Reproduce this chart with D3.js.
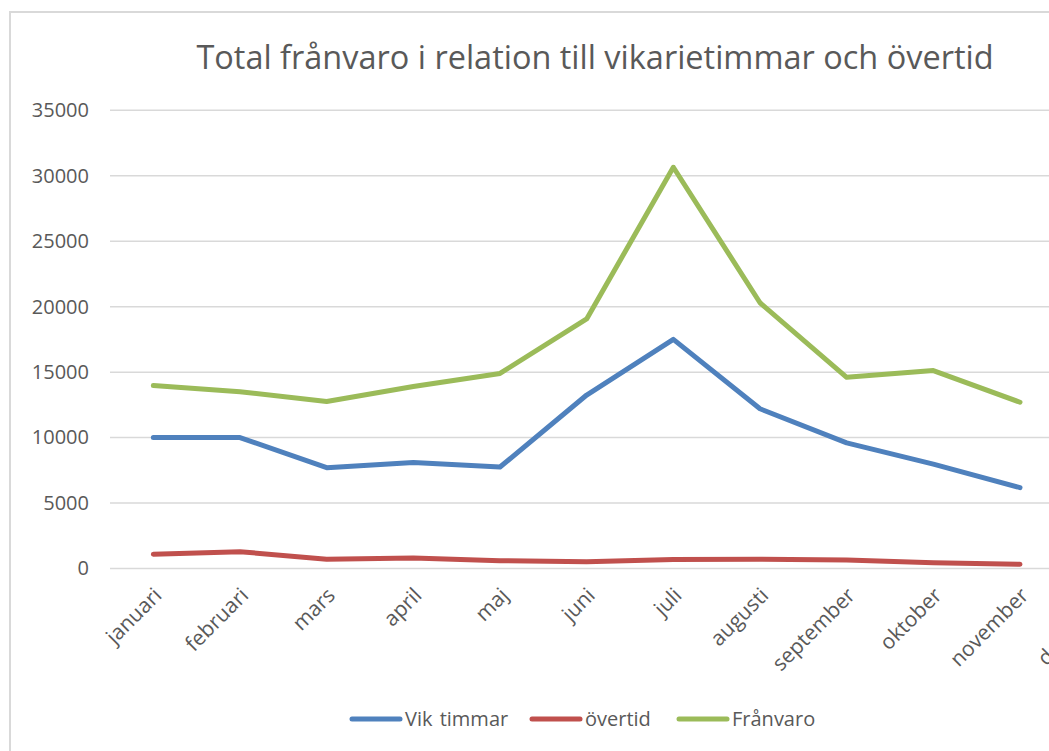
<!DOCTYPE html>
<html>
<head>
<meta charset="utf-8">
<script src="https://cdn.jsdelivr.net/npm/d3@7"></script>
<style>
  html, body { margin: 0; padding: 0; background: #fff; overflow: hidden; }
  svg { display: block; }
  text { font-family: "Open Sans", "Noto Sans", sans-serif; fill: #595959; }
</style>
</head>
<body>
<svg id="chart" width="1049" height="751"></svg>
<script>
const months = ["januari","februari","mars","april","maj","juni","juli","augusti","september","oktober","november","december"];
const vikTimmar = [10000, 10000, 7700, 8100, 7750, 13250, 17500, 12200, 9600, 7970, 6180, null];
const overtid   = [1085, 1285, 700, 800, 600, 520, 690, 700, 650, 440, 320, null];
const franvaro  = [13970, 13500, 12750, 13900, 14900, 19060, 30650, 20300, 14600, 15120, 12700, null];
const yTicks = [0, 5000, 10000, 15000, 20000, 25000, 30000, 35000];
const seriesNames = ["Vik timmar", "övertid", "Frånvaro"];
const seriesColors = ["#4F81BD", "#C0504D", "#9BBB59"];
const titleText = "Total frånvaro i relation till vikarietimmar och övertid";

const svg = d3.select("#chart");

// chart area border (cropped at right/bottom)
svg.append("path")
  .attr("d", "M10,751 L10,12 L1049,12")
  .attr("fill", "none").attr("stroke", "#D9D9D9").attr("stroke-width", 2);

const x = d3.scalePoint().domain(months).range([110, 1150]).padding(0.5);
const y = d3.scaleLinear().domain([0, 35000]).range([568.5, 110.3]);

// gridlines
svg.append("g").selectAll("line").data(yTicks).join("line")
  .attr("x1", 110).attr("x2", 1150)
  .attr("y1", d => y(d)).attr("y2", d => y(d))
  .attr("stroke", "#D9D9D9").attr("stroke-width", 1.5);

// y axis labels
const yAxis = d3.axisLeft(y).tickValues(yTicks).tickFormat(d3.format("d")).tickSize(0).tickPadding(0);
const gy = svg.append("g").attr("transform", "translate(89,0)").call(yAxis);
gy.select(".domain").remove();
gy.selectAll("text").style("font-size", "20px").attr("fill", "#595959")
  .style("font-family", "'Open Sans', sans-serif");

// x axis labels (rotated)
const xAxis = d3.axisBottom(x).tickSize(0).tickPadding(0);
const gx = svg.append("g").attr("transform", "translate(0,568.5)").call(xAxis);
gx.select(".domain").remove();
gx.selectAll("text")
  .style("font-size", "21px").attr("fill", "#595959")
  .style("font-family", "'Open Sans', sans-serif")
  .attr("text-anchor", "end")
  .attr("y", 0).attr("dy", "0.35em")
  .attr("transform", "translate(4,23) rotate(-45)");

// lines
const allSeries = [vikTimmar, overtid, franvaro];
const line = d3.line()
  .defined(d => d.v !== null)
  .x(d => x(d.m)).y(d => y(d.v));
allSeries.forEach((vals, i) => {
  svg.append("path")
    .datum(vals.map((v, j) => ({ m: months[j], v })))
    .attr("d", line)
    .attr("fill", "none")
    .attr("stroke", seriesColors[i])
    .attr("stroke-width", 5)
    .attr("stroke-linejoin", "round")
    .attr("stroke-linecap", "round");
});

// title
const title = svg.append("text")
  .attr("x", 595).attr("y", 69)
  .attr("text-anchor", "middle")
  .style("font-size", "30px")
  .text(titleText);
const tw = title.node().getComputedTextLength();
title.style("font-size", (30 * 797 / tw).toFixed(2) + "px");

// legend
const legendX = [350, 530, 677];
const lg = svg.append("g");
seriesNames.forEach((name, i) => {
  lg.append("line")
    .attr("x1", legendX[i] + 2).attr("x2", legendX[i] + 50)
    .attr("y1", 719).attr("y2", 719)
    .attr("stroke", seriesColors[i]).attr("stroke-width", 5)
    .attr("stroke-linecap", "round");
  lg.append("text")
    .attr("x", legendX[i] + 55).attr("y", 719).attr("dy", "0.35em")
    .style("font-size", "20px")
    .style("word-spacing", i === 0 ? "2px" : "0px")
    .text(name);
});
</script>
</body>
</html>
